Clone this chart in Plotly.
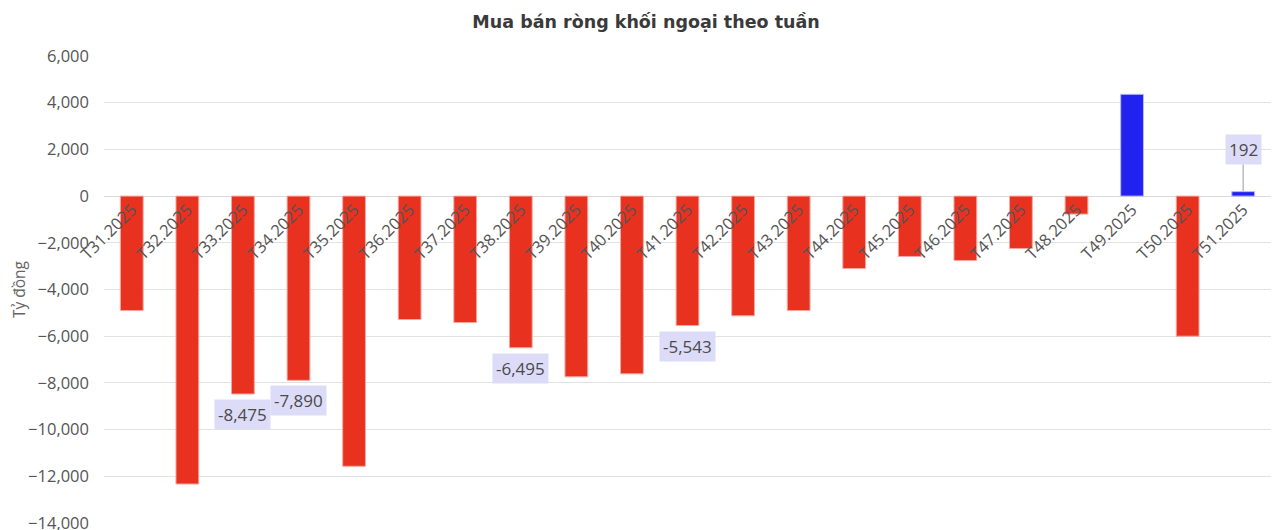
import plotly.graph_objects as go

# Weekly net foreign buying/selling (ty dong)
weeks = ["T31.2025", "T32.2025", "T33.2025", "T34.2025", "T35.2025", "T36.2025", "T37.2025",
         "T38.2025", "T39.2025", "T40.2025", "T41.2025", "T42.2025", "T43.2025", "T44.2025",
         "T45.2025", "T46.2025", "T47.2025", "T48.2025", "T49.2025", "T50.2025", "T51.2025"]
net_values = [-4900, -12330, -8475, -7890, -11570, -5285, -5415,
              -6495, -7740, -7612, -5543, -5127, -4900, -3100,
              -2585, -2757, -2243, -770, 4360, -6000, 192]
# only these weeks carry a value label
labelled = ["T33.2025", "T34.2025", "T38.2025", "T41.2025", "T51.2025"]

RED = "#E8311F"
BLUE = "#2222F0"
bar_colors = [BLUE if v > 0 else RED for v in net_values]
line_colors = ["#B8B8F8" if v > 0 else "#F4A8A0" for v in net_values]

y_min, y_max = -14000, 6000

fig = go.Figure(go.Bar(
    x=weeks,
    y=net_values,
    marker=dict(color=bar_colors, line=dict(color=line_colors, width=1)),
    hoverinfo="x+y",
))

# data labels
for w, v in zip(weeks, net_values):
    if w not in labelled:
        continue
    if v < 0:
        fig.add_annotation(x=w, y=v, text=f"{v:,}", showarrow=False,
                           yanchor="top", yshift=-5, bgcolor="#DCDCF8",
                           borderpad=3, font=dict(size=17, color="#4A4A4A"))
    else:
        fig.add_annotation(x=w, y=v, text=f"{v:,}", showarrow=True,
                           ax=0, ay=-42, arrowhead=0, arrowwidth=1.5,
                           arrowcolor="#BDBDBD", bgcolor="#DCDCF8",
                           borderpad=3, font=dict(size=17, color="#4A4A4A"))

# page body adds 8px offset, margins compensate
fig.update_layout(
    width=1280, height=530,
    margin=dict(l=96, r=17, t=48, b=15),
    paper_bgcolor="white", plot_bgcolor="white",
    font=dict(family="Open Sans", color="#555555"),
    title=dict(text="<b>Mua bán ròng khối ngoại theo tuần</b>", x=0.4985, xanchor="center",
               y=0.973, yanchor="middle",
               font=dict(family="DejaVu Sans", size=17.5, color="#3A3A3A")),
    bargap=0.59,
    showlegend=False,
)

fig.update_xaxes(
    type="category",
    anchor="free",
    position=(0 - y_min) / (y_max - y_min),
    tickangle=-45,
    showline=False, showgrid=False, ticks="",
    tickfont=dict(size=16.5, color="#555555"),
)

fig.update_yaxes(
    range=[y_min, y_max],
    dtick=2000,
    tickformat=",",
    showgrid=True, gridcolor="#E2E2E2", gridwidth=1,
    zeroline=True, zerolinecolor="#DADADA", zerolinewidth=1,
    showline=False,
    ticklabelstandoff=14,
    tickfont=dict(size=16.5, color="#555555"),
    title=dict(text="Tỷ đồng", standoff=8, font=dict(size=15.5, color="#666666")),
    automargin=False,
)

fig.write_html("out.html")
